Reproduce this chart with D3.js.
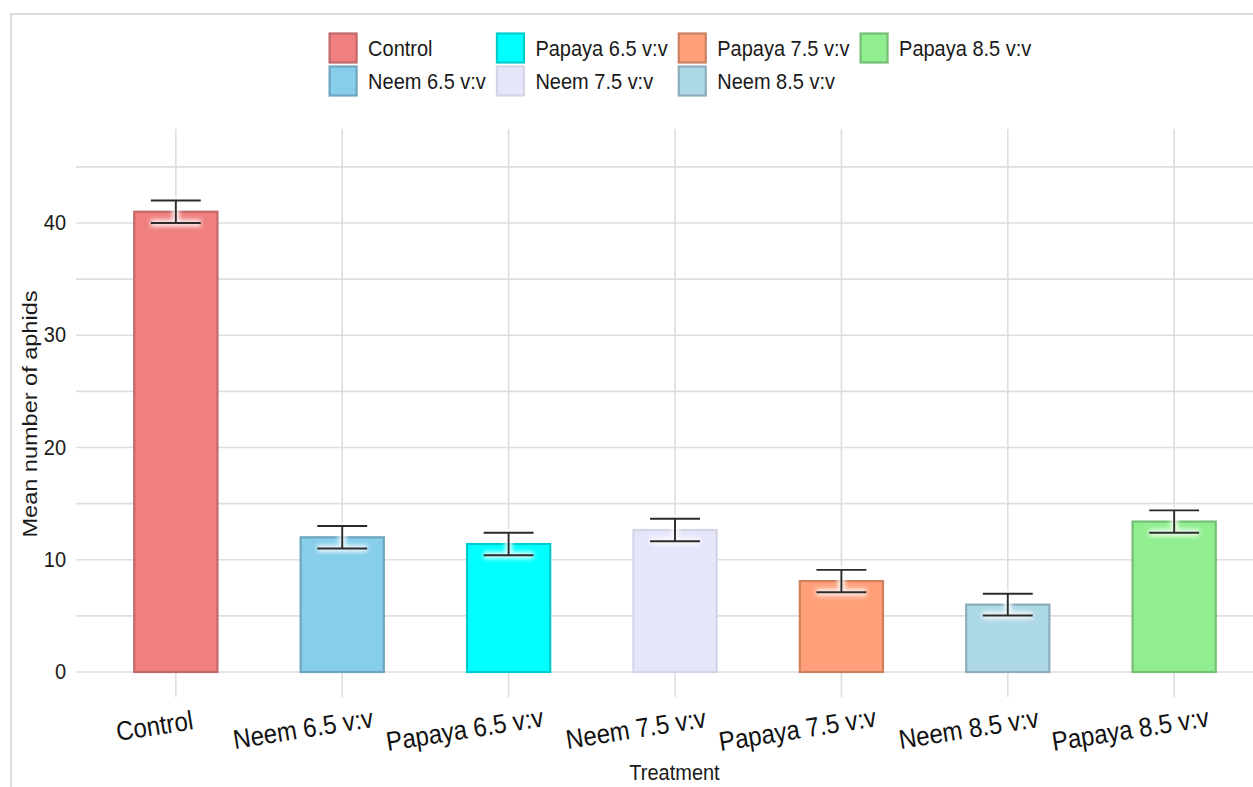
<!DOCTYPE html>
<html>
<head>
<meta charset="utf-8">
<script src="https://cdn.jsdelivr.net/npm/d3@7"></script>
<style>
  body { margin: 0; background: #fff; }
  svg { display: block; }
  text { font-family: "Liberation Sans", Arial, Helvetica, sans-serif; fill: #1a1a1a; }
</style>
</head>
<body>
<svg id="chart" width="1253" height="787"></svg>
<script>
// Treatments, in plotting order
const categories = ["Control", "Neem 6.5 v:v", "Papaya 6.5 v:v", "Neem 7.5 v:v",
                    "Papaya 7.5 v:v", "Neem 8.5 v:v", "Papaya 8.5 v:v"];
// Mean number of aphids per treatment and its standard error
const means  = [41.0, 12.0, 11.4, 12.65, 8.1, 6.0, 13.4];
const errors = [1.0, 1.0, 1.0, 1.0, 1.0, 0.97, 1.0];
// Fill colour per treatment
const colors = ["#F08080", "#87CEEB", "#00FFFF", "#E6E6FA", "#FFA07A", "#ADD8E6", "#90EE90"];
// Axis ticks
const yTicks = [0, 10, 20, 30, 40];
const yMinorTicks = [5, 15, 25, 35, 45];
const xTitle = "Treatment";
const yTitle = "Mean number of aphids";

const data = categories.map((c, i) => ({ cat: c, mean: means[i], se: errors[i], color: colors[i] }));

const svg = d3.select("#chart");
const W = 1253, H = 787;
const panel = { left: 76, right: 1274, top: 129, bottom: 697 };
const TALL = 1.12;   // glyphs are drawn slightly taller than wide

// outline colour: a darker shade of the fill, gentler for very pale fills
const edge = c => d3.color(c).darker(d3.hsl(c).l > 0.9 ? 0.22 : 0.6);

const defs = svg.append("defs");
defs.append("filter").attr("id", "halo").attr("x", "-20%").attr("y", "-50%")
  .attr("width", "140%").attr("height", "200%")
  .append("feGaussianBlur").attr("stdDeviation", 2.2);
defs.append("filter").attr("id", "soft")
  .append("feGaussianBlur").attr("stdDeviation", 0.7);

// outer plot frame (top and left edges)
svg.append("path")
  .attr("d", `M11,${H} L11,14 L${W},14`)
  .attr("fill", "none").attr("stroke", "#dcdcdc").attr("stroke-width", 2);

const x = d3.scaleBand()
  .domain(categories)
  .range([panel.left, panel.right])
  .paddingInner(0)
  .paddingOuter(0.1);
const step = x.step();
const cx = c => x(c) + x.bandwidth() / 2;

const y = d3.scaleLinear()
  .domain([-2.227, 48.37])
  .range([panel.bottom, panel.top]);

// grid lines
const grid = svg.append("g").attr("stroke", "#dedede").attr("stroke-width", 1.6);
grid.selectAll("line.h")
  .data(yTicks.concat(yMinorTicks))
  .join("line")
  .attr("x1", panel.left).attr("x2", panel.right)
  .attr("y1", d => y(d)).attr("y2", d => y(d));
grid.selectAll("line.v")
  .data(categories)
  .join("line")
  .attr("x1", d => cx(d)).attr("x2", d => cx(d))
  .attr("y1", panel.top).attr("y2", panel.bottom);

// bars
const barW = step * 0.5;
svg.append("g").selectAll("rect")
  .data(data)
  .join("rect")
  .attr("x", d => cx(d.cat) - barW / 2)
  .attr("width", barW)
  .attr("y", d => y(d.mean))
  .attr("height", d => y(0) - y(d.mean))
  .attr("fill", d => d.color)
  .attr("stroke", d => edge(d.color))
  .attr("stroke-width", 2.2)
  .attr("filter", "url(#soft)");

// error bars
const capW = step * 0.3;
const errPath = d => {
  const xc = cx(d.cat), y1 = y(d.mean + d.se), y0 = y(d.mean - d.se);
  return `M${xc - capW / 2},${y1}H${xc + capW / 2}M${xc},${y1}V${y0}M${xc - capW / 2},${y0}H${xc + capW / 2}`;
};
const eb = svg.append("g");
eb.selectAll("path.halo")
  .data(data)
  .join("path")
  .attr("class", "halo")
  .attr("d", errPath)
  .attr("fill", "none").attr("stroke", "#ffffff").attr("stroke-width", 7)
  .attr("stroke-opacity", 0.85)
  .attr("filter", "url(#halo)");
eb.selectAll("path.err")
  .data(data)
  .join("path")
  .attr("class", "err")
  .attr("d", errPath)
  .attr("fill", "none").attr("stroke", "#2b2b2b").attr("stroke-width", 1.9);

// y axis
const yAxis = svg.append("g")
  .attr("transform", `translate(${panel.left},0)`)
  .call(d3.axisLeft(y).tickValues(yTicks).tickSize(0).tickPadding(10).tickFormat(d3.format("d")));
yAxis.select(".domain").remove();
yAxis.selectAll("text")
  .attr("font-size", 20)
  .attr("font-family", "Liberation Sans, Arial, sans-serif")
  .style("fill", "#1a1a1a")
  .attr("dy", "0.3em")
  .attr("transform", `scale(1,${TALL})`);

// x axis labels, tilted
const xAxis = svg.append("g")
  .attr("transform", `translate(0,722)`)
  .call(d3.axisBottom(x).tickSize(0));
xAxis.select(".domain").remove();
xAxis.selectAll(".tick text")
  .attr("font-size", 24)
  .attr("font-family", "Liberation Sans, Arial, sans-serif")
  .style("fill", "#111")
  .attr("text-anchor", "start")
  .attr("y", 8.7).attr("dy", 0)
  .each(function () {
    const len = this.getComputedTextLength();
    d3.select(this).attr("x", -0.78 * len).attr("transform", `rotate(-9) scale(1,${TALL})`);
  });

// axis titles
svg.append("text")
  .attr("transform", `translate(674.5,780) scale(1,${TALL})`)
  .attr("text-anchor", "middle").attr("font-size", 20)
  .text(xTitle);
svg.append("text")
  .attr("transform", `translate(37,414) rotate(-90) scale(${TALL},1)`)
  .attr("text-anchor", "middle").attr("font-size", 21)
  .text(yTitle);

// legend: two rows, filled column by column
const leg = svg.append("g");
const keyW = 27, keyH = 29, textGap = 11.5, colGap = 11;
const rowY = [48, 81];
const nCols = Math.ceil(categories.length / 2);
// measure labels to size the columns
const measure = svg.append("text").attr("font-size", 20);
const widths = categories.map(c => { measure.text(c); return measure.node().getComputedTextLength(); });
measure.remove();
let colX = 329.6;
for (let col = 0; col < nCols; col++) {
  const items = [col * 2, col * 2 + 1].filter(i => i < categories.length);
  items.forEach((i, r) => {
    const g = leg.append("g");
    g.append("rect")
      .attr("x", colX).attr("y", rowY[r] - keyH / 2)
      .attr("width", keyW).attr("height", keyH)
      .attr("fill", colors[i])
      .attr("stroke", edge(colors[i]))
      .attr("stroke-width", 2.2)
      .attr("filter", "url(#soft)");
    g.append("text")
      .attr("transform", `translate(${colX + keyW + textGap},${rowY[r] + 7.5}) scale(1,${TALL})`)
      .attr("font-size", 20)
      .text(categories[i]);
  });
  colX += keyW + textGap + d3.max(items, i => widths[i]) + colGap;
}
</script>
</body>
</html>
